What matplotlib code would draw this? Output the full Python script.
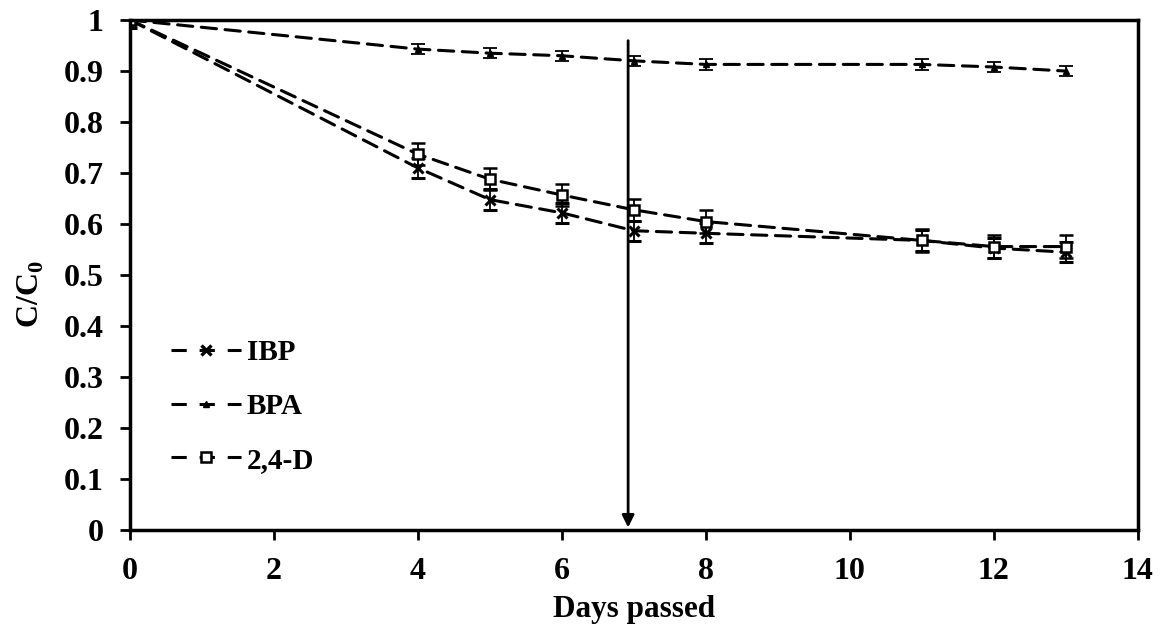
import numpy as np
import matplotlib.pyplot as plt
from matplotlib.lines import Line2D

plt.rcParams['font.family'] = ['Liberation Serif', 'DejaVu Serif']
plt.rcParams['font.weight'] = 'bold'
plt.rcParams['mathtext.fontset'] = 'custom'
plt.rcParams['mathtext.bf'] = 'Liberation Serif:bold'
plt.rcParams['mathtext.rm'] = 'Liberation Serif:bold'

# data
days = [0, 4, 5, 6, 7, 8, 11, 12, 13]
ibp = [1.0, 0.71, 0.648, 0.622, 0.587, 0.582, 0.568, 0.553, 0.545]
bpa = [1.0, 0.943, 0.935, 0.930, 0.920, 0.913, 0.913, 0.908, 0.900]
d24 = [1.0, 0.737, 0.688, 0.657, 0.628, 0.605, 0.568, 0.556, 0.556]
ibp_err = [0.015, 0.02, 0.02, 0.02, 0.02, 0.02, 0.02, 0.02, 0.02]
bpa_err = [0.01, 0.01, 0.01, 0.01, 0.01, 0.01, 0.01, 0.01, 0.01]
d24_err = [0.01, 0.022, 0.022, 0.022, 0.022, 0.022, 0.022, 0.022, 0.022]
labels = ['IBP', 'BPA', '2,4-D']
arrow_x = 6.92

fig = plt.figure(figsize=(11.62, 6.26), dpi=100)
ax = fig.add_axes([0.112, 0.153, 0.867, 0.815])

dash = (0, (5, 2.8))
common = dict(color='black', ls=dash, lw=2.2, capsize=5, elinewidth=1.3, capthick=1.3,
              dash_capstyle='round')
ax.errorbar(days, ibp, yerr=ibp_err, marker='x', ms=7, mew=2.2, **common)
ax.errorbar(days, bpa, yerr=bpa_err, marker='^', ms=5, **common)
ax.errorbar(days, d24, yerr=d24_err, marker='s', ms=7, mfc='white', mew=1.8, **common)

# vertical arrow
ax.annotate('', xy=(arrow_x, 0.0), xytext=(arrow_x, 0.965),
            arrowprops=dict(arrowstyle='-|>', color='black', lw=2, mutation_scale=18))

ax.set_xlim(0, 14)
ax.set_ylim(0, 1)
ax.set_xticks(np.arange(0, 15, 2))
ax.set_yticks(np.arange(0, 1.01, 0.1))
ax.set_yticklabels(['0'] + ['%.1f' % v for v in np.arange(0.1, 0.95, 0.1)] + ['1'])
ax.tick_params(direction='out', length=7, width=2, labelsize=23)
ax.tick_params(axis='y', pad=12)
ax.tick_params(axis='x', pad=12)
for lab in ax.get_xticklabels() + ax.get_yticklabels():
    lab.set_fontweight('bold')
for sp in ax.spines.values():
    sp.set_linewidth(2.5)

ax.set_xlabel('Days passed', fontsize=22.5, fontweight='bold', labelpad=7)
ax.set_ylabel('C/C$_\\mathbf{0}$', fontsize=23, fontweight='bold')
ax.yaxis.set_label_coords(-0.084, 0.463)

# legend handles without the error bars
lg_dash = (0, (5, 4.2))
handles = [
    Line2D([], [], color='black', ls=lg_dash, lw=2.2, marker='x', ms=7, mew=2.4),
    Line2D([], [], color='black', ls=lg_dash, lw=2.2, marker='^', ms=5),
    Line2D([], [], color='black', ls=lg_dash, lw=2.2, marker='s', ms=6.5,
           mfc='white', mew=1.8),
]
ax.legend(handles, labels, loc='lower left', bbox_to_anchor=(0.029, 0.088), frameon=False,
          prop={'size': 21, 'weight': 'bold'}, handlelength=2.4, labelspacing=0.92,
          handletextpad=0.2, borderaxespad=0)

fig.savefig('out.png', dpi=100)
